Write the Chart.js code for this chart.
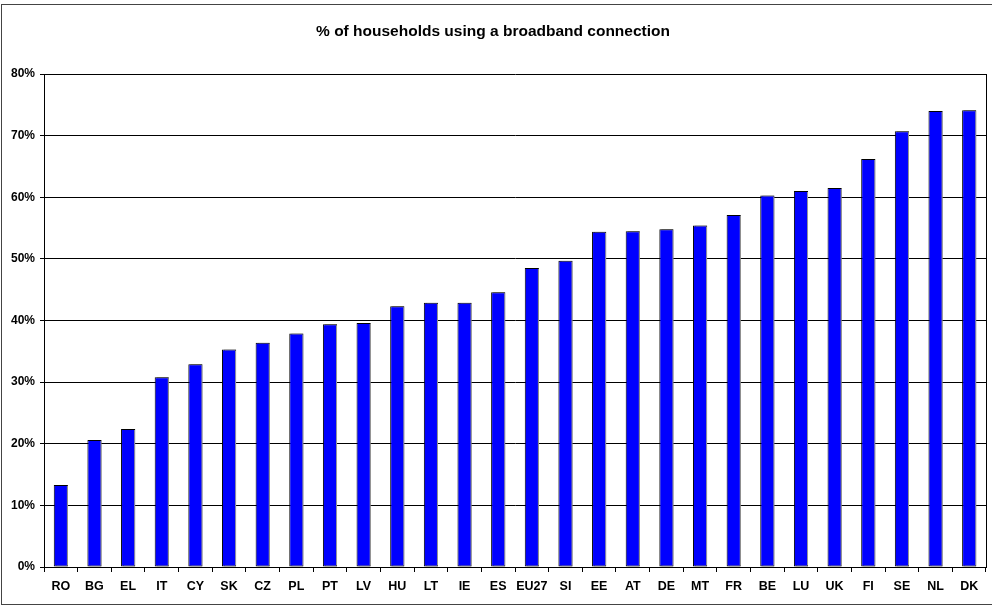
<!DOCTYPE html>
<html>
<head>
<meta charset="utf-8">
<script src="https://cdn.jsdelivr.net/npm/chart.js@4/dist/chart.umd.min.js"></script>
<style>
    html, body { margin: 0; padding: 0; background: #fff; }
    #frame { position: absolute; left: 1px; top: 4px; width: 1000px; height: 599px; border: 1px solid #444; }
    #wrap { position: absolute; left: 0; top: 0; width: 992px; height: 605px; }
</style>
</head>
<body>
<div id="frame"></div>
<div id="wrap"><canvas id="chart" width="992" height="605"></canvas></div>
<script>
// Data (% of households)
const countries = ['RO', 'BG', 'EL', 'IT', 'CY', 'SK', 'CZ', 'PL', 'PT', 'LV', 'HU', 'LT', 'IE', 'ES',
    'EU27', 'SI', 'EE', 'AT', 'DE', 'MT', 'FR', 'BE', 'LU', 'UK', 'FI', 'SE', 'NL', 'DK'];
const broadband = [13.3, 20.6, 22.4, 30.8, 32.9, 35.3, 36.4, 37.9, 39.4, 39.6, 42.3, 42.9, 42.9, 44.6,
    48.5, 49.7, 54.4, 54.5, 54.8, 55.4, 57.1, 60.3, 61.0, 61.5, 66.2, 70.7, 74.0, 74.1];
const yTicks = [0, 10, 20, 30, 40, 50, 60, 70, 80];

const family = "'Liberation Sans', Arial, sans-serif";

// Ombre grise des barres + bord droit de la zone de tracé
const barShadow = {
    id: 'barShadow',
    beforeDatasetsDraw(chart) {
        const ctx = chart.ctx;
        ctx.save();
        ctx.shadowColor = '#999';
        ctx.shadowOffsetX = 2;
        ctx.shadowOffsetY = 0;
        ctx.shadowBlur = 0;
    },
    afterDatasetsDraw(chart) {
        chart.ctx.restore();
        const a = chart.chartArea;
        const ctx = chart.ctx;
        ctx.save();
        ctx.strokeStyle = '#000';
        ctx.lineWidth = 1;
        ctx.beginPath();
        ctx.moveTo(Math.round(a.right) + 0.5, a.top);
        ctx.lineTo(Math.round(a.right) + 0.5, a.bottom);
        ctx.stroke();
        ctx.restore();
    }
};

new Chart(document.getElementById('chart'), {
    type: 'bar',
    data: {
        labels: countries,
        datasets: [{
            data: broadband,
            backgroundColor: '#0000FF',
            borderColor: '#000',
            borderWidth: 1,
            borderSkipped: false,
            barPercentage: 0.42,
            categoryPercentage: 1
        }]
    },
    options: {
        responsive: false,
        animation: false,
        devicePixelRatio: 1,
        layout: { padding: { left: 0, right: 6, top: 0, bottom: 0 } },
        plugins: {
            legend: { display: false },
            tooltip: { enabled: false },
            title: {
                display: true,
                text: '% of households using a broadband connection',
                color: '#000',
                font: { family: family, size: 15.5, weight: 'bold' },
                padding: { top: 22.4, bottom: 33 }
            }
        },
        scales: {
            x: {
                grid: { display: true, drawOnChartArea: false, drawTicks: true, tickLength: 5, color: '#000', offset: true },
                border: { display: true, color: '#000', width: 1 },
                ticks: { color: '#000', font: { family: family, size: 12.5, weight: 'bold' }, padding: 7, maxRotation: 0, autoSkip: false },
                afterFit: s => { s.height = 38; }
            },
            y: {
                min: 0,
                max: 80,
                afterBuildTicks: s => { s.ticks = yTicks.map(v => ({ value: v })); },
                grid: { color: '#000', lineWidth: 1, tickLength: 4 },
                border: { display: true, color: '#000', width: 1 },
                ticks: { color: '#000', font: { family: family, size: 12, weight: 'bold' }, padding: 5, callback: v => v + '%' },
                afterFit: s => { s.width = 44; }
            }
        }
    },
    plugins: [barShadow]
});
</script>
</body>
</html>
